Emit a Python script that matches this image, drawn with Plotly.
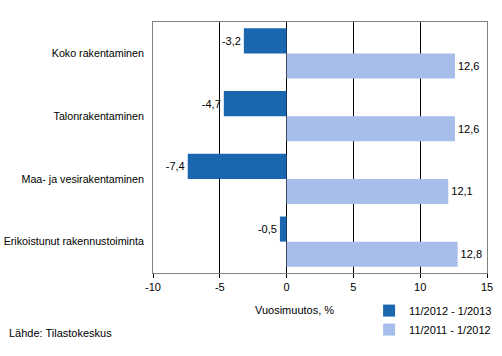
import plotly.graph_objects as go

categories = ["Koko rakentaminen", "Talonrakentaminen", "Maa- ja vesirakentaminen", "Erikoistunut rakennustoiminta"]
series_names = ["11/2012 - 1/2013", "11/2011 - 1/2012"]
values_2013 = [-3.2, -4.7, -7.4, -0.5]
values_2012 = [12.6, 12.6, 12.1, 12.8]
colors = ["#1A67B0", "#A7BDEA"]
tick_vals = [-10, -5, 0, 5, 10, 15]

def fmt(v):
    return f"{v:.1f}".replace(".", ",")

FONT = "Liberation Sans"

fig = go.Figure()
for name, vals, col in zip(series_names, [values_2013, values_2012], colors):
    fig.add_trace(go.Bar(
        y=categories, x=vals, name=name, orientation="h",
        marker=dict(color=col, line=dict(width=0)),
        text=[fmt(v) for v in vals], textposition="outside",
        textfont=dict(family=FONT, size=11, color="#000"),
        cliponaxis=False,
    ))

fig.update_layout(
    width=502, height=356,
    margin=dict(l=153, r=15, t=22, b=83, autoexpand=False),
    paper_bgcolor="white", plot_bgcolor="white",
    barmode="group", bargap=0.2, bargroupgap=0,
    font=dict(family=FONT, size=11, color="#000"),
    showlegend=True,
    legend=dict(x=0.647, y=-0.092, xanchor="left", yanchor="top",
                orientation="v", traceorder="normal",
                font=dict(family=FONT, size=11, color="#000"),
                itemwidth=30, tracegroupgap=0, bgcolor="rgba(0,0,0,0)"),
    xaxis=dict(range=[-10, 15], tickvals=tick_vals, ticktext=[str(t) for t in tick_vals],
               automargin=False,
               showgrid=True, gridcolor="#000", gridwidth=1,
               zeroline=True, zerolinecolor="#000", zerolinewidth=1,
               showline=True, linecolor="#808080", linewidth=1, mirror=True,
               ticks="outside", ticklen=4, tickcolor="#000",
               tickfont=dict(family=FONT, size=11)),
    yaxis=dict(autorange="reversed", showgrid=False, zeroline=False, automargin=False,
               showline=True, linecolor="#808080", linewidth=1, mirror=True,
               ticks="", ticklabelstandoff=6,
               tickfont=dict(family=FONT, size=10.7)),
    annotations=[
        dict(text="Vuosimuutos, %", x=(253 - 153) / 334, y=(273 - 310) / 251,
             xref="paper", yref="paper",
             xanchor="left", yanchor="middle", showarrow=False,
             font=dict(family=FONT, size=11)),
        dict(text="Lähde: Tilastokeskus", x=(7 - 153) / 334, y=(273 - 333) / 251,
             xref="paper", yref="paper",
             xanchor="left", yanchor="middle", showarrow=False,
             font=dict(family=FONT, size=11)),
    ],
)

fig.write_html("out.html", config={"displayModeBar": False},
               post_script="document.body.style.margin='0';document.body.style.overflow='hidden';")
